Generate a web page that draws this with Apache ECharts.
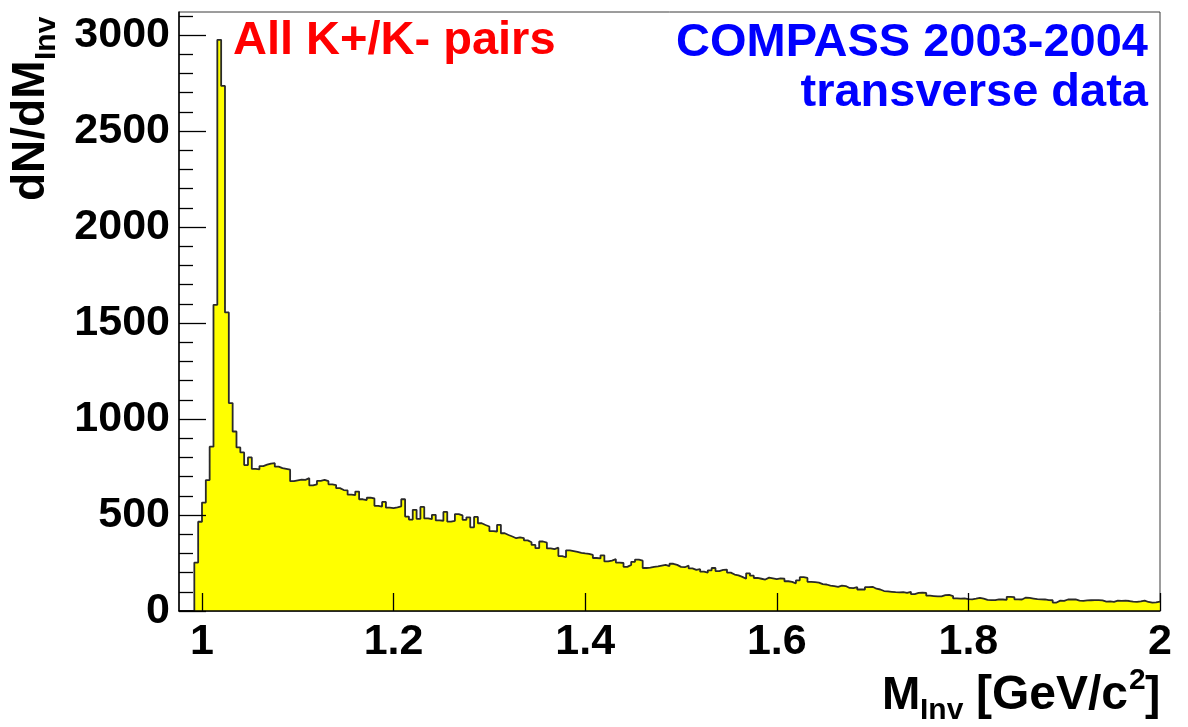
<!DOCTYPE html>
<html>
<head>
<meta charset="utf-8">
<title>K+K- invariant mass</title>
<script src="https://cdn.jsdelivr.net/npm/echarts/dist/echarts.min.js"></script>
<style>
  html, body { margin: 0; padding: 0; background: #ffffff; }
  #chart { width: 1188px; height: 727px; }
</style>
</head>
<body>
<div id="chart"></div>
<script>
// Histogram binning: 4 MeV bins starting at 0.976 GeV/c^2
const binLow = 0.976;
const binWidth = 0.004;
const xMax = 2.0;
const yMax = 3120;

// Entries per bin (dN/dM_Inv), all K+/K- pairs
const counts = [
  0, 0, 0, 0, 252, 465, 565, 682, 856, 1595,
  2975, 2735, 1555, 1083, 935, 852, 826, 760, 800, 740,
  738, 755, 762, 768, 770, 752, 744, 740, 736, 676,
  680, 684, 683, 692, 654, 660, 678, 683, 676, 660,
  656, 640, 630, 628, 606, 604, 622, 582, 578, 590,
  586, 548, 544, 568, 538, 536, 540, 545, 582, 492,
  476, 527, 480, 542, 482, 478, 501, 472, 470, 516,
  466, 470, 505, 498, 475, 488, 436, 490, 457, 448,
  440, 416, 414, 449, 405, 396, 388, 379, 384, 380,
  368, 358, 344, 327, 362, 356, 326, 322, 330, 286,
  280, 316, 312, 308, 303, 300, 298, 292, 276, 274,
  290, 258, 262, 270, 252, 250, 230, 240, 256, 268,
  262, 224, 226, 230, 232, 236, 240, 234, 246, 240,
  230, 228, 236, 222, 214, 218, 205, 200, 212, 224,
  208, 214, 216, 200, 190, 186, 178, 168, 196, 184,
  172, 168, 164, 174, 170, 166, 170, 168, 155, 152,
  144, 160, 176, 172, 152, 150, 148,
  140, 138, 132, 130, 126, 132, 130, 120, 119, 124,
  112, 112, 124, 126, 116, 112, 104, 102, 100, 98,
  97, 98, 94, 100, 88, 94, 96, 94, 80, 78,
  76, 76, 83, 84, 78, 66, 64, 66, 62, 61,
  64, 68, 64, 58, 57, 57, 61, 60, 58, 74,
  72, 61, 60, 70, 68, 65, 62, 61, 60, 57,
  56, 44, 54, 53, 60, 61, 60, 54, 53, 55,
  56, 57, 57, 55, 49, 50, 48, 54, 53, 54,
  52, 49, 48, 50, 54, 47, 44, 45, 49
];

// Axis ticks
const xTicks = [1, 1.2, 1.4, 1.6, 1.8, 2];
const yTicks = [0, 500, 1000, 1500, 2000, 2500, 3000];
const yMinorTicks = [100, 200, 300, 400, 600, 700, 800, 900, 1100, 1200, 1300, 1400,
  1600, 1700, 1800, 1900, 2100, 2200, 2300, 2400, 2600, 2700, 2800, 2900, 3100];

// Step-line points at each bin's lower edge, closed at the upper end of the range
const histPoints = counts.map((c, i) => [binLow + i * binWidth, c]);
histPoints.push([xMax, counts[counts.length - 1]]);

const FONT = '"Liberation Sans", Arial, Helvetica, sans-serif';

function txt(x, y, text, size, color, align, extra) {
  return Object.assign({
    type: 'text',
    x: x, y: y,
    z: 100,
    style: {
      text: text,
      fill: color,
      font: 'bold ' + size + 'px ' + FONT,
      align: align, textAlign: align,
      verticalAlign: 'middle', textVerticalAlign: 'middle'
    }
  }, extra || {});
}

const chart = echarts.init(document.getElementById('chart'), null, { renderer: 'canvas' });

chart.setOption({
  animation: false,
  backgroundColor: '#ffffff',
  grid: {
    left: 179, top: 12, right: 28, bottom: 116,
    show: true, borderColor: '#3a3a3a', borderWidth: 1, backgroundColor: 'transparent'
  },
  xAxis: {
    type: 'value',
    min: binLow, max: xMax,
    z: 10,
    axisLine: { show: true, onZero: false, lineStyle: { color: '#000', width: 1.5 } },
    axisTick: { show: true, inside: true, length: 18, customValues: xTicks,
                lineStyle: { color: '#000', width: 1.3 } },
    axisLabel: {
      customValues: xTicks,
      formatter: v => String(v),
      fontSize: 43, fontWeight: 'bold', fontFamily: FONT, color: '#000', margin: 10
    },
    splitLine: { show: false }
  },
  yAxis: [
    {
      type: 'value', min: 0, max: yMax, z: 10,
      axisLine: { show: true, lineStyle: { color: '#000', width: 1.5 } },
      axisTick: { show: true, inside: true, length: 27, customValues: yTicks,
                  lineStyle: { color: '#000', width: 1.3 } },
      axisLabel: {
        customValues: yTicks,
        formatter: v => String(v),
        fontSize: 43, fontWeight: 'bold', fontFamily: FONT, color: '#000', margin: 9,
        padding: [16, 0, 0, 0]
      },
      splitLine: { show: false }
    },
    {
      type: 'value', min: 0, max: yMax, position: 'left', z: 10,
      axisLine: { show: false },
      axisTick: { show: true, inside: true, length: 14, customValues: yMinorTicks,
                  lineStyle: { color: '#000', width: 1.3 } },
      axisLabel: { show: false },
      splitLine: { show: false }
    }
  ],
  series: [{
    type: 'line',
    step: 'end',
    data: histPoints,
    symbol: 'none',
    z: 2,
    lineStyle: { color: '#2a2a2a', width: 1.8 },
    areaStyle: { color: '#ffff00', opacity: 1 }
  }],
  graphic: [
    txt(233, 41, 'All K+/K- pairs', 47, '#ff0000', 'left'),
    txt(1148, 43, 'COMPASS 2003-2004', 47, '#0000ff', 'right'),
    txt(1148, 93, 'transverse data', 47, '#0000ff', 'right'),
    // x-axis title: M_Inv [GeV/c^2]
    txt(882, 696, 'M', 46, '#000', 'left'),
    txt(920, 711, 'Inv', 30, '#000', 'left'),
    txt(976, 696, '[GeV/c', 48, '#000', 'left'),
    txt(1129, 681, '2', 30, '#000', 'left'),
    txt(1145, 696, ']', 46, '#000', 'left'),
    // y-axis title: dN/dM_Inv, reading bottom to top
    {
      type: 'group',
      x: 31, y: 201,
      rotation: Math.PI / 2,
      children: [
        txt(0, 0, 'dN/dM', 46, '#000', 'left'),
        txt(141, 16, 'Inv', 30, '#000', 'left')
      ]
    }
  ]
});
</script>
</body>
</html>
